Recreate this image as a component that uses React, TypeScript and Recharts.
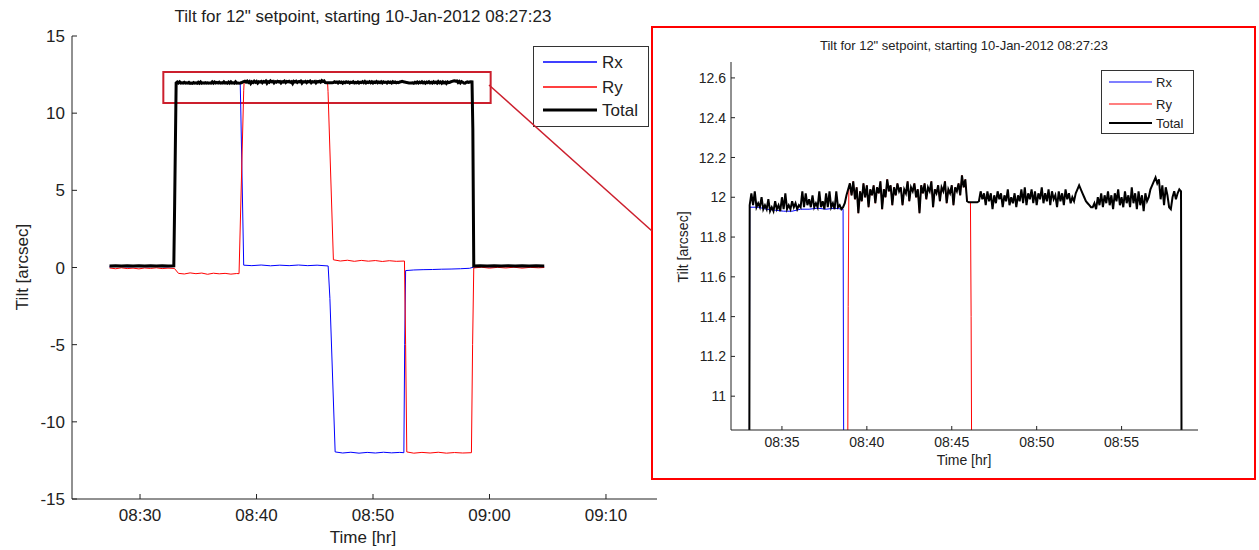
import React from "react";
import { LineChart, Line, XAxis, YAxis, ReferenceArea } from "recharts";

// time is in minutes after 08:00

const seriesNames = ["Rx", "Ry", "Total"];
const seriesColors = ["#0000ff", "#ff0000", "#000000"];

// Total tilt on the 12" plateau, one sample every 0.1 min from 33.1
const plateauStart = 33.1;
const plateauStep = 0.1;
const totalPlateau = [
    11.96, 12.02, 11.96, 12.03, 11.95, 11.97, 11.95, 12.0, 11.94, 11.96,
    11.94, 11.99, 11.93, 11.95, 11.93, 11.98, 11.94, 11.96, 11.93, 12.0,
    11.94, 12.02, 11.94, 11.96, 11.94, 11.98, 11.95, 11.97, 11.94, 11.96,
    11.95, 12.03, 11.95, 12.02, 11.96, 11.99, 11.95, 12.01, 11.95, 11.97,
    11.95, 12.03, 11.95, 11.98, 11.94, 12.02, 11.95, 12.03, 11.95, 11.97,
    11.94, 12.03, 11.95, 11.96, 11.94, 11.95, 11.97, 12.01, 12.04, 12.07,
    12.01, 12.08, 11.99, 12.05, 11.92, 12.03, 11.98, 12.07, 12.0, 12.06,
    11.95, 12.04, 12.01, 12.06, 11.97, 12.05, 12.02, 12.08, 11.94, 12.04,
    12.0, 12.09, 12.03, 12.06, 11.96, 12.05, 12.01, 12.07, 12.03, 12.05,
    11.96, 12.04, 12.02, 12.08, 11.98, 12.05, 12.03, 12.07, 12.0, 12.04,
    11.92, 12.06, 12.02, 12.07, 11.99, 12.05, 12.03, 12.08, 11.95, 12.04,
    12.02, 12.06, 11.98, 12.05, 12.03, 12.08, 11.97, 12.04, 12.02, 12.06,
    11.96, 12.05, 12.03, 12.07, 12.01, 12.11, 12.05, 12.09, 11.98, 11.975,
    11.975, 11.975, 11.975, 11.975, 11.975, 11.98, 12.03, 11.99, 12.02, 11.96,
    12.03, 11.98, 12.02, 11.94, 12.01, 11.97, 12.03, 11.99, 12.02, 11.95,
    12.01, 11.98, 12.04, 11.96, 12.0, 11.97, 12.02, 11.95, 12.01, 11.98,
    12.04, 11.97, 12.05, 11.96, 12.02, 11.99, 12.04, 11.97, 12.03, 11.96,
    12.02, 11.99, 12.05, 11.97, 12.02, 11.98, 12.04, 11.96, 12.03, 11.99,
    12.01, 11.95, 12.03, 11.98, 12.02, 11.96, 12.04, 11.99, 12.02, 11.97,
    12.0, 11.98, 12.02, 12.04, 12.06, 12.04, 12.02, 12.0, 11.98, 11.97,
    11.96, 11.95, 11.95, 11.97, 11.94, 12.0, 11.96, 12.02, 11.95, 12.01,
    11.97, 12.03, 11.96, 12.01, 11.94, 12.02, 11.98, 12.04, 11.96, 12.0,
    11.95, 12.03, 11.97, 12.01, 11.95, 12.05, 11.97, 12.02, 11.94, 12.03,
    11.96, 12.01, 11.93, 12.02, 11.98, 12.0, 12.04, 12.06, 12.08, 12.1,
    12.07, 12.09, 11.99, 12.06, 11.96, 12.05, 12.01, 11.95, 11.94, 12.0,
    12.03, 11.99, 12.02, 12.04, 12.03,
];

const totalBefore = [
    [27.38, 0.1], [27.9, 0.12], [28.4, 0.1], [28.9, 0.11], [29.4, 0.1], [29.9, 0.12],
    [30.4, 0.1], [30.9, 0.11], [31.4, 0.1], [31.9, 0.12], [32.4, 0.1], [32.9, 0.11],
    [32.97, 4.0],
];
const totalAfter = [
    [58.57, 9.0], [58.65, 0.1], [59.2, 0.12], [59.8, 0.1], [60.4, 0.11], [61.0, 0.1],
    [61.6, 0.12], [62.2, 0.1], [62.8, 0.11], [63.4, 0.1], [64.0, 0.12], [64.7, 0.1],
];

const rxValues = [
    [27.38, 0.05], [28.2, 0.07], [29.0, 0.04], [29.8, 0.06], [30.6, 0.05], [31.4, 0.07],
    [32.2, 0.04], [32.9, 0.06], [33.0, 4.0], [33.1, 11.95], [33.6, 11.95], [34.1, 11.94],
    [34.6, 11.935], [35.1, 11.93], [35.6, 11.93], [36.1, 11.94], [36.6, 11.94], [37.1, 11.945],
    [37.6, 11.94], [38.1, 11.945], [38.6, 11.94], [38.64, 10.6], [38.9, 0.15], [39.6, 0.12],
    [40.4, 0.16], [41.2, 0.11], [42.0, 0.15], [42.8, 0.12], [43.6, 0.16], [44.4, 0.12],
    [45.2, 0.15], [46.15, 0.1], [46.3, -2.0], [46.75, -11.95], [47.4, -12.02], [48.1, -11.97],
    [48.8, -12.03], [49.5, -11.98], [50.2, -12.02], [50.9, -11.97], [51.6, -12.01], [52.3, -11.98],
    [52.65, -12.0], [52.72, -5.0], [52.8, -0.2], [53.5, -0.16], [54.3, -0.14], [55.1, -0.13],
    [55.9, -0.11], [56.7, -0.1], [57.5, -0.08], [58.3, -0.05], [58.6, 0.02], [59.4, 0.06],
    [60.2, 0.04], [61.0, 0.07], [61.8, 0.05], [62.6, 0.06], [63.4, 0.04], [64.2, 0.06],
    [64.7, 0.05],
];

const ryBefore = [
    [27.38, -0.03], [27.9, -0.08], [28.4, -0.02], [28.9, -0.07], [29.4, -0.04], [29.9, -0.09],
    [30.4, -0.03], [30.9, -0.06], [31.4, -0.02], [31.9, -0.07], [32.4, -0.04], [32.95, -0.06],
    [33.3, -0.38], [33.8, -0.42], [34.3, -0.35], [34.8, -0.4], [35.3, -0.36], [35.8, -0.44],
    [36.3, -0.37], [36.8, -0.41], [37.3, -0.38], [37.8, -0.43], [38.3, -0.39], [38.5, -0.4],
    [38.9, 11.45], [38.94, 12.05],
];
// while Ry carries the tilt (39.0 - 46.0) it is the total, so it reuses those samples
const ryHighFrom = 39.0;
const ryHighTo = 46.0;
const ryAfter = [
    [46.1, 11.975], [46.14, 11.4], [46.6, 0.5], [47.2, 0.42], [47.8, 0.47], [48.4, 0.4],
    [49.0, 0.46], [49.6, 0.41], [50.2, 0.45], [50.8, 0.39], [51.4, 0.44], [52.0, 0.4],
    [52.7, 0.42], [52.8, -5.0], [52.9, -11.95], [53.5, -12.03], [54.2, -11.98], [54.9, -12.02],
    [55.6, -11.97], [56.3, -12.03], [57.0, -11.99], [57.7, -12.02], [58.45, -12.0], [58.55, -5.0],
    [58.65, -0.03], [59.3, 0.02], [60.0, -0.04], [60.7, 0.01], [61.4, -0.03], [62.1, 0.02],
    [62.8, -0.04], [63.5, 0.01], [64.2, -0.02], [64.7, 0.0],
];

const mainYTicks = [-15, -10, -5, 0, 5, 10, 15];
const mainXTicks = [30, 40, 50, 60, 70];
const insetYTicks = [11, 11.2, 11.4, 11.6, 11.8, 12, 12.2, 12.4, 12.6];
const insetXTicks = [35, 40, 45, 50, 55];

const toPts = (arr: number[][]) => arr.map(([t, v]) => ({ t, v }));
const plateauPts = totalPlateau.map((v, i) => ({ t: +(plateauStart + i * plateauStep).toFixed(2), v }));

const totalData = [...toPts(totalBefore), ...plateauPts, ...toPts(totalAfter)];
const rxData = toPts(rxValues);
const ryData = [
    ...toPts(ryBefore),
    ...plateauPts.filter((p) => p.t >= ryHighFrom && p.t <= ryHighTo),
    ...toPts(ryAfter),
];
const seriesData = [rxData, ryData, totalData];

const FONT = '"Liberation Sans", Arial, sans-serif';
const AXIS = "#222";

const fmtTime = (m: number) => {
    const h = 8 + Math.floor(m / 60);
    const mm = Math.round(m % 60);
    return `${String(h).padStart(2, "0")}:${String(mm).padStart(2, "0")}`;
};
const fmtNum = (v: number) => String(+v.toFixed(1));

const yTick = (len: number, fs: number, gap: number) => (props: any) => {
    const { x, y, payload } = props;
    return (
        <g>
            <line x1={x} y1={y} x2={x + len} y2={y} stroke={AXIS} />
            <text x={x - gap} y={y + fs * 0.36} textAnchor="end" fontSize={fs} fontFamily={FONT} fill={AXIS}>
                {fmtNum(payload.value)}
            </text>
        </g>
    );
};
const xTick = (len: number, fs: number, gap: number) => (props: any) => {
    const { x, y, payload } = props;
    return (
        <g>
            <line x1={x} y1={y} x2={x} y2={y - len} stroke={AXIS} />
            <text x={x} y={y + gap} textAnchor="middle" fontSize={fs} fontFamily={FONT} fill={AXIS}>
                {fmtTime(payload.value)}
            </text>
        </g>
    );
};

const LegendBox = ({ left, top, width, height, rows, lineX, lineW, textX, fs, widths }: any) => (
    <svg
        width={width}
        height={height}
        style={{ position: "absolute", left, top }}
        fontFamily={FONT}
    >
        <rect x={0.5} y={0.5} width={width - 1} height={height - 1} fill="#fff" stroke="#333" />
        {seriesNames.map((name, i) => (
            <g key={name}>
                <line
                    x1={lineX} x2={lineX + lineW} y1={rows[i]} y2={rows[i]}
                    stroke={seriesColors[i]} strokeWidth={widths[i]}
                />
                <text x={textX} y={rows[i] + fs * 0.36} fontSize={fs} fill="#222">{name}</text>
            </g>
        ))}
    </svg>
);

export default function App() {
    return (
        <div style={{ position: "absolute", left: 0, top: 0, width: 1259, height: 550, background: "#fff" }}>
            {/* main chart */}
            <div style={{ position: "absolute", left: 0, top: 0 }}>
                <LineChart width={660} height={550} margin={{ top: 36, right: 3, bottom: 21, left: 32 }}>
                    <XAxis
                        dataKey="t"
                        type="number"
                        domain={[24.16, 74.38]}
                        ticks={mainXTicks}
                        interval={0}
                        allowDataOverflow
                        height={30}
                        tickSize={0}
                        tickMargin={0}
                        tickLine={false}
                        axisLine={{ stroke: AXIS }}
                        tick={xTick(5, 17, 22)}
                    />
                    <YAxis
                        dataKey="v"
                        type="number"
                        domain={[-15, 15]}
                        ticks={mainYTicks}
                        interval={0}
                        width={40}
                        tickSize={0}
                        tickMargin={0}
                        tickLine={false}
                        axisLine={{ stroke: AXIS }}
                        tick={yTick(5, 17, 7)}
                    />
                    {seriesNames.map((name, i) => (
                        <Line
                            key={name}
                            data={seriesData[i]}
                            dataKey="v"
                            name={name}
                            type="linear"
                            stroke={seriesColors[i]}
                            strokeWidth={i === 2 ? 3 : 1}
                            dot={false}
                            isAnimationActive={false}
                        />
                    ))}
                    <ReferenceArea
                        x1={32}
                        x2={60.1}
                        y1={10.66}
                        y2={12.67}
                        fill="none"
                        fillOpacity={0}
                        stroke="#cc1f2d"
                        strokeWidth={2}
                        ifOverflow="visible"
                    />
                </LineChart>
            </div>

            <LegendBox
                left={533} top={46} width={116} height={81} rows={[16, 41, 64]}
                lineX={10} lineW={54} textX={69} fs={17} widths={[1.5, 1.5, 3]}
            />

            {/* zoomed inset */}
            <div
                style={{
                    position: "absolute", left: 651, top: 26, width: 605, height: 454,
                    boxSizing: "border-box", border: "2px solid #ff0000",
                }}
            />
            <div style={{ position: "absolute", left: 651, top: 26 }}>
                <LineChart width={605} height={454} margin={{ top: 36, right: 58, bottom: 20, left: 40 }}>
                    <XAxis
                        dataKey="t"
                        type="number"
                        domain={[32, 59.5]}
                        ticks={insetXTicks}
                        interval={0}
                        allowDataOverflow
                        height={30}
                        tickSize={0}
                        tickMargin={0}
                        tickLine={false}
                        axisLine={{ stroke: AXIS }}
                        tick={xTick(4, 14, 17)}
                    />
                    <YAxis
                        dataKey="v"
                        type="number"
                        domain={[10.83, 12.68]}
                        ticks={insetYTicks}
                        interval={0}
                        allowDataOverflow
                        width={40}
                        tickSize={0}
                        tickMargin={0}
                        tickLine={false}
                        axisLine={{ stroke: AXIS }}
                        tick={yTick(4, 14, 5)}
                    />
                    {seriesNames.map((name, i) => (
                        <Line
                            key={name}
                            data={seriesData[i]}
                            dataKey="v"
                            name={name}
                            type="linear"
                            stroke={seriesColors[i]}
                            strokeWidth={i === 2 ? 2 : 1}
                            dot={false}
                            isAnimationActive={false}
                        />
                    ))}
                </LineChart>
            </div>

            <LegendBox
                left={1101} top={70} width={93} height={64} rows={[12, 34, 53]}
                lineX={8} lineW={43} textX={55} fs={13} widths={[1.2, 1.2, 2]}
            />

            {/* titles, axis labels and the zoom connector */}
            <svg
                width={1259}
                height={550}
                style={{ position: "absolute", left: 0, top: 0, pointerEvents: "none" }}
                fontFamily={FONT}
                fill="#222"
            >
                <text x={363} y={22} textAnchor="middle" fontSize={17}>
                    Tilt for 12" setpoint, starting 10-Jan-2012 08:27:23
                </text>
                <text x={363} y={543} textAnchor="middle" fontSize={17}>Time [hr]</text>
                <text transform="translate(28,267) rotate(-90)" textAnchor="middle" fontSize={17}>
                    Tilt [arcsec]
                </text>
                <text x={964} y={50} textAnchor="middle" fontSize={13}>
                    Tilt for 12" setpoint, starting 10-Jan-2012 08:27:23
                </text>
                <text x={964} y={465} textAnchor="middle" fontSize={14}>Time [hr]</text>
                <text transform="translate(688,247) rotate(-90)" textAnchor="middle" fontSize={14}>
                    Tilt [arcsec]
                </text>
                <line x1={489} y1={85} x2={652} y2={231} stroke="#cc1f2d" strokeWidth={1.5} />
            </svg>
        </div>
    );
}
